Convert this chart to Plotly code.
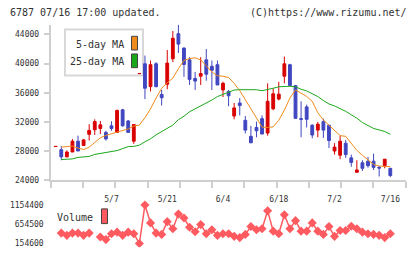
import numpy as np
import plotly.graph_objects as go

# ---------------- data ----------------
dates = ["4/18", "4/21", "4/22", "4/23", "4/24", "4/25", "4/28", "4/30",
         "5/1", "5/2", "5/7", "5/8", "5/9", "5/12", "5/13", "5/14", "5/15", "5/16",
         "5/19", "5/20", "5/21", "5/22", "5/23", "5/26", "5/27", "5/28", "5/29", "5/30",
         "6/2", "6/3", "6/4", "6/5", "6/6", "6/9", "6/10", "6/11", "6/12", "6/13",
         "6/16", "6/17", "6/18", "6/19", "6/20", "6/23", "6/24", "6/25", "6/26", "6/27",
         "6/30", "7/1", "7/2", "7/3", "7/4", "7/7", "7/8", "7/9", "7/10", "7/11",
         "7/14", "7/15", "7/16"]

opens = [28640, 28210, 27220, 27890, 29370, 28790, 30310, 30940, 31110, 30580,
         31470, 30580, 33670, 32140, 29370, 38620, 39970, 36840, 39970, 35770,
         37160, 40650, 44090, 42120, 40510, 37960, 38270, 40510, 39620, 39840,
         36390, 36170, 32820, 34600, 32230, 30040, 31250, 32460, 30490, 33800,
         35140, 38270, 39840, 36980, 32460, 34070, 31560, 30890, 32050, 31560,
         28030, 27450, 29100, 27090, 25120, 26420, 26640, 26640, 25790, 26010,
         25660]
highs = [28660, 28700, 28120, 29680, 30130, 29680, 31700, 32370, 32140, 30800,
         32100, 33710, 33800, 32280, 31700, 38640, 41090, 40420, 40200, 36390,
         41850, 44450, 45300, 42210, 40870, 38860, 40870, 41990, 40420, 40420,
         37510, 36390, 34600, 35280, 32820, 31470, 32050, 32900, 37290, 36620,
         37510, 40960, 39970, 37070, 34830, 34380, 31700, 32010, 32460, 31560,
         29100, 30130, 29550, 27540, 26770, 26770, 27220, 27670, 26010, 26910,
         25660]
lows = [28640, 26770, 27220, 27890, 28030, 28790, 29460, 30220, 30350, 29460,
        30800, 30490, 31380, 30490, 29010, 38620, 35140, 36170, 36750, 34250,
        36480, 40200, 41450, 38180, 37070, 36390, 37070, 37650, 36390, 37070,
        35410, 34160, 32370, 32900, 30440, 29150, 29910, 30350, 30130, 33620,
        34960, 37290, 36980, 32500, 29910, 31250, 29770, 29910, 29820, 28430,
        27540, 26910, 27090, 25880, 25120, 25300, 25750, 25430, 24540, 25660,
        24450]
closes = [28660, 27220, 27890, 29370, 28030, 29550, 30850, 32050, 31610, 29680,
          31110, 33580, 31470, 30580, 31650, 38640, 36620, 39840, 36840, 35320,
          40060, 43460, 42660, 39880, 37830, 37600, 38630, 38540, 39080, 37070,
          37290, 35590, 33930, 34250, 30890, 29150, 30800, 30350, 34830, 35860,
          35810, 39970, 36980, 32500, 32370, 32370, 30220, 31700, 30890, 29460,
          28560, 29370, 27540, 26460, 25430, 25660, 26010, 25790, 25700, 26910,
          24670]

ma5 = [None, 28560, 28630, 28700, 28430, 28230, 28560, 29230, 29840, 30170,
       30380, 30640, 30780, 31050, 31450, 31580, 32590, 33800, 35280, 36620,
       37380, 38000, 39300, 40420, 40690, 40780, 40510, 39750, 38860, 38320,
       38270, 38090, 37290, 36300, 35000, 33700, 32400, 31300, 31250, 31340,
       32230, 33620, 35280, 36390, 35950, 35500, 34830, 33260, 32280, 31560,
       30800, 30130, 30040, 29010, 28120, 27450, 26860, 26190, 25970, 25920,
       25880]
ma25 = [None, 26860, 26890, 26950, 27150, 27220, 27290, 27560, 27690, 27760,
        27890, 28090, 28360, 28630, 28660, 28830, 29300, 29700, 30240, 30710,
        31110, 31580, 32320, 32790, 33400, 33800, 34130, 34600, 35010, 35480,
        35810, 36150, 36380, 36420, 36420, 36420, 36420, 36280, 36420, 36620,
        36820, 36890, 36890, 36820, 36480, 36260, 35880, 35480, 34940, 34470,
        34200, 33870, 33460, 32990, 32520, 31920, 31520, 31110, 30910, 30710,
        30310]

volume = [None, 424300, 365800, 424300, 424300, 365800, 424300, None, 322500, 256400,
          409000, 449700, 365800, 449700, 409000, 154600, 1154400, 688800, 424300, 391200,
          721900, 536200, 917800, 816000, 576900, 459900, 645600, 409000, 510800, 365800,
          409000, 409000, 340300, 307200, 391200, 594700, 510800, 536200, 1001800, 475100,
          409000, 900000, 536200, 747300, 475100, 475100, 688800, 475100, 391200, 594700,
          340300, 493000, 493000, 602300, 536200, 449700, 409000, 391200, 365800, 307200,
          409000]

price_ticks = [24000, 28000, 32000, 36000, 40000, 44000]
volume_ticks = [154600, 654500, 1154400]
date_labels = ["5/7", "5/21", "6/4", "6/18", "7/2", "7/16"]

# ---------------- styling / geometry ----------------
W, H = 420, 259
UP = "#d90000"
DOWN = "#4046c0"
ORANGE = "#f08a1a"
GREEN = "#1aa81a"
VOLC = "#ff5a60"
AXC = "#cfcfcf"
TXT = "#333333"
FONT = "DejaVu Sans Mono"

def px(x):
    return x / W

def py(y):
    return 1 - y / H

idx = list(range(len(dates)))
x_range = [-0.9, 62.76]
x_dom = [px(50.7), px(405.7)]

fig = go.Figure()

fig.add_trace(go.Candlestick(
    x=idx, open=opens, high=highs, low=lows, close=closes,
    increasing=dict(line=dict(color=UP, width=1), fillcolor=UP),
    decreasing=dict(line=dict(color=DOWN, width=1), fillcolor=DOWN),
    whiskerwidth=0, hoverinfo="skip", xaxis="x", yaxis="y"))

fig.add_trace(go.Scatter(x=idx, y=ma5, mode="lines",
                         line=dict(color=ORANGE, width=1), xaxis="x", yaxis="y",
                         hoverinfo="skip"))
fig.add_trace(go.Scatter(x=idx, y=ma25, mode="lines",
                         line=dict(color=GREEN, width=1), xaxis="x", yaxis="y",
                         hoverinfo="skip"))

fig.add_trace(go.Scatter(x=idx, y=volume, mode="lines+markers",
                         line=dict(color=VOLC, width=1.5),
                         marker=dict(symbol="diamond", size=7, color=VOLC),
                         xaxis="x2", yaxis="y2", hoverinfo="skip"))

label_pos = [dates.index(d) for d in date_labels]

fig.update_layout(
    width=W, height=H,
    margin=dict(l=0, r=0, t=0, b=0),
    paper_bgcolor="white", plot_bgcolor="white",
    showlegend=False,
    boxgap=0.28,
    font=dict(family=FONT, color=TXT, size=8),
    xaxis=dict(domain=x_dom, range=x_range,
               rangeslider=dict(visible=False),
               showline=True, linecolor=AXC, linewidth=2,
               ticks="outside", ticklen=6, tickwidth=2, tickcolor=AXC,
               tickvals=list(np.linspace(x_range[0], x_range[1], 12)),
               showticklabels=False, showgrid=False, zeroline=False,
               anchor="y"),
    xaxis3=dict(domain=x_dom, range=x_range, overlaying="x", anchor="y",
                side="bottom", showline=False, ticks="", showgrid=False,
                zeroline=False, tickvals=label_pos, ticktext=date_labels,
                tickfont=dict(size=8, color=TXT, family=FONT),
                ticklabelstandoff=13),
    yaxis=dict(domain=[py(184), py(25)], range=[24000, 45342],
               showline=True, linecolor=AXC, linewidth=2,
               ticks="outside", ticklen=5, tickwidth=2, tickcolor=AXC,
               tickvals=price_ticks, ticktext=[str(v) for v in price_ticks],
               tickfont=dict(size=8, color=TXT, family=FONT),
               showgrid=False, zeroline=False, anchor="x",
               ticklabelstandoff=3),
    xaxis2=dict(domain=x_dom, range=x_range,
                anchor="y2", showline=False, ticks="", showgrid=False,
                zeroline=False, showticklabels=False),
    yaxis2=dict(domain=[py(252), py(204)], range=[60470, 1281590],
                showline=False, ticks="", showgrid=False, zeroline=False,
                tickvals=volume_ticks, ticktext=[str(v) for v in volume_ticks],
                tickfont=dict(size=8, color=TXT, family=FONT),
                anchor="x2", ticklabelstandoff=6),
)

# invisible carrier so xaxis3 is drawn
fig.add_trace(go.Scatter(x=[label_pos[0]], y=[price_ticks[0]], mode="markers",
                         marker=dict(opacity=0), xaxis="x3", yaxis="y",
                         hoverinfo="skip"))

shapes = [
    dict(type="rect", xref="paper", yref="paper",
         x0=px(65), x1=px(143), y0=py(77), y1=py(30),
         line=dict(color="#d8d8d8", width=2), fillcolor="white", layer="below"),
    dict(type="rect", xref="paper", yref="paper",
         x0=px(131.5), x1=px(137.5), y0=py(51), y1=py(37),
         line=dict(color="#444444", width=1), fillcolor=ORANGE),
    dict(type="rect", xref="paper", yref="paper",
         x0=px(131.5), x1=px(137.5), y0=py(69), y1=py(55),
         line=dict(color="#444444", width=1), fillcolor=GREEN),
    dict(type="rect", xref="paper", yref="paper",
         x0=px(101.5), x1=px(107.5), y0=py(228), y1=py(213),
         line=dict(color="#444444", width=1), fillcolor=VOLC),
]
fig.update_layout(shapes=shapes)

ann = [
    dict(text="6787 07/16 17:00 updated.", x=px(8), y=py(12.5),
         xanchor="left", yanchor="middle", font=dict(size=10)),
    dict(text="(C)https://www.rizumu.net/", x=px(409), y=py(12.5),
         xanchor="right", yanchor="middle", font=dict(size=10)),
    dict(text="5-day MA", x=px(126), y=py(45.5),
         xanchor="right", yanchor="middle", font=dict(size=10)),
    dict(text="25-day MA", x=px(126), y=py(63),
         xanchor="right", yanchor="middle", font=dict(size=10)),
    dict(text="Volume", x=px(95), y=py(222),
         xanchor="right", yanchor="middle", font=dict(size=10)),
]
for a in ann:
    a.update(xref="paper", yref="paper", showarrow=False)
    a["font"].update(family=FONT, color=TXT)
fig.update_layout(annotations=ann)

fig.write_html("out.html")
